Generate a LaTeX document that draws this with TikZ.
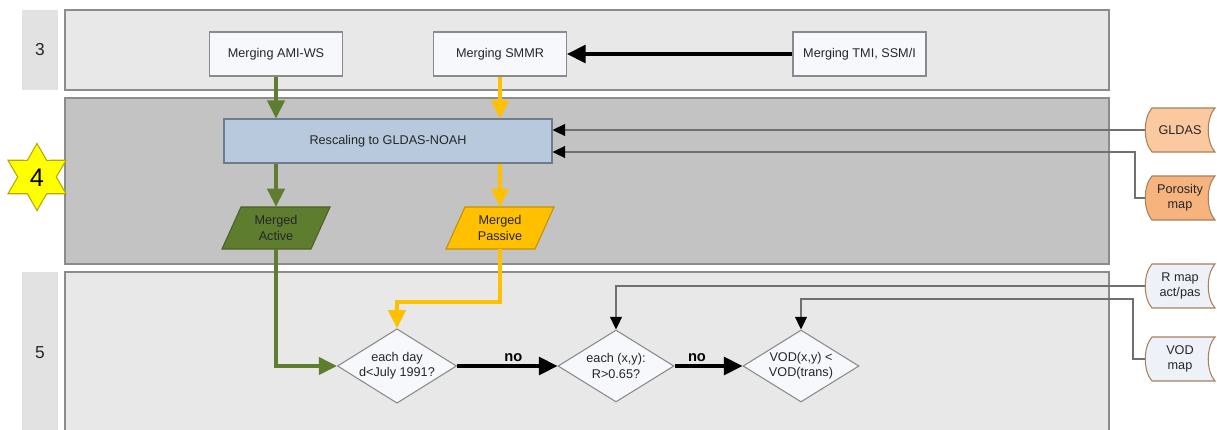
\documentclass[tikz,border=0pt]{standalone}
\usepackage{fontspec}
\setmainfont{Liberation Sans}
\usetikzlibrary{arrows.meta,shapes.geometric}
\definecolor{lanelight}{HTML}{E8E8E8}
\definecolor{lanedark}{HTML}{C3C3C3}
\definecolor{lanelbl}{HTML}{E2E2E2}
\definecolor{laneborder}{HTML}{8C8C8C}
\definecolor{boxfill}{HTML}{F6F8FB}
\definecolor{boxborder}{HTML}{8A8A8A}
\definecolor{rescfill}{HTML}{B8C9DE}
\definecolor{rescborder}{HTML}{6D7D8E}
\definecolor{actgreen}{HTML}{5F7D2F}
\definecolor{actborder}{HTML}{4A6024}
\definecolor{pasyellow}{HTML}{FFC000}
\definecolor{pasborder}{HTML}{C89000}
\definecolor{gldasfill}{HTML}{FAC9A0}
\definecolor{porofill}{HTML}{F6B37D}
\definecolor{storeborder}{HTML}{A8805E}
\definecolor{mapfill}{HTML}{EEF2F8}
\definecolor{thinline}{HTML}{707070}
\definecolor{txt}{HTML}{262626}
\definecolor{staryellow}{HTML}{FFFF00}
\definecolor{starborder}{HTML}{B8A800}
\newcommand\storeshape[4]{%
  \filldraw[fill=#4,draw=storeborder,line width=0.8pt]
    (#1+7,#2) -- (1215,#2) .. controls (1206,#2+10) and (1206,#3-10) .. (1215,#3)
    -- (#1+7,#3) .. controls (#1-2,#3-10) and (#1-2,#2+10) .. (#1+7,#2) -- cycle;}
\begin{document}
\begin{tikzpicture}[x=0.75pt,y=-0.75pt,
  font=\fontsize{9.5}{11.5}\selectfont, text=txt,
  procbox/.style={draw=boxborder,fill=boxfill,line width=0.8pt,minimum width=99.75pt,minimum height=33pt,inner sep=0pt},
  rescbox/.style={draw=rescborder,fill=rescfill,line width=0.8pt,minimum width=246pt,minimum height=33pt,inner sep=0pt},
  iobox/.style={minimum width=66pt,minimum height=31.5pt,inner sep=0pt,align=center},
  decision/.style={diamond,draw=boxborder,fill=boxfill,line width=0.8pt,minimum width=87pt,minimum height=54pt,inner sep=0pt,aspect=1.6,align=center},
  storetxt/.style={minimum width=52.5pt,minimum height=33pt,inner sep=0pt,align=center},
  greenarrow/.style={draw=actgreen,line width=2.3pt,-{Triangle[length=13.5pt,width=13pt]}},
  yellowarrow/.style={draw=pasyellow,line width=2.3pt,-{Triangle[length=13.5pt,width=13pt]}},
  blackarrow/.style={draw=black,line width=2.4pt,-{Triangle[length=14pt,width=13.5pt]}},
  thinarrow/.style={draw=thinline,line width=0.9pt,-{Triangle[length=9.5pt,width=9pt,fill=black,color=black]}},
  nolabel/.style={above=-1pt,font=\fontsize{11}{13}\selectfont\bfseries,text=black},
  lanelabel/.style={font=\fontsize{13}{15}\selectfont}
]
\useasboundingbox (0,0) rectangle (1217,429);
\clip (0,0) rectangle (1217,429);

% lanes
\fill[lanelbl] (22,10) rectangle (58,90);
\fill[lanelbl] (22,272) rectangle (58,440);
\filldraw[fill=lanelight,draw=laneborder,line width=0.9pt] (65,10) rectangle (1109,90);
\filldraw[fill=lanedark,draw=laneborder,line width=0.9pt] (65,98) rectangle (1109,264);
\filldraw[fill=lanelight,draw=laneborder,line width=0.9pt] (65,272) rectangle (1109,440);
\node[lanelabel] (l3) at (40,50) {3};
\node[lanelabel] (l5) at (40,353) {5};

% star 4
\filldraw[fill=staryellow,draw=starborder,line width=0.8pt,shift={(37,177)}]
  (90:33.5) -- (120:19.3) -- (150:33.5) -- (180:19.3) -- (210:33.5) -- (240:19.3)
  -- (270:33.5) -- (300:19.3) -- (330:33.5) -- (0:19.3) -- (30:33.5) -- (60:19.3) -- cycle;
\node[font=\fontsize{19}{21}\selectfont,text=black] (l4) at (37,178) {4};

% lane 3
\node[procbox] (ami) at (276,54) {Merging AMI-WS};
\node[procbox] (smmr) at (500,54) {Merging SMMR};
\node[procbox] (tmi) at (859.5,54) {Merging TMI, SSM/I};

% lane 4
\node[rescbox] (resc) at (388,141) {Rescaling to GLDAS-NOAH};
\filldraw[fill=actgreen,draw=actborder,line width=0.8pt] (241,207) -- (330,207) -- (311,249) -- (222,249) -- cycle;
\node[iobox] (act) at (276,228) {Merged\\Active};
\filldraw[fill=pasyellow,draw=pasborder,line width=0.8pt] (465,207) -- (554,207) -- (535,249) -- (446,249) -- cycle;
\node[iobox] (pas) at (500,228) {Merged\\Passive};

% lane 5
\node[decision] (d1) at (397,366) {each day\\d<July 1991?};
\node[decision] (d2) at (616,366) {each (x,y):\\R>0.65?};
\node[decision] (d3) at (801,366) {VOD(x,y) <\\VOD(trans)};

% data stores
\storeshape{1145}{108}{152}{gldasfill}
\node[storetxt] (gldas) at (1180,130) {GLDAS};
\storeshape{1145}{176}{220}{porofill}
\node[storetxt] (poro) at (1180,198) {Porosity\\map};
\storeshape{1145}{264}{308}{mapfill}
\node[storetxt] (rmap) at (1180,286) {R map\\act/pas};
\storeshape{1145}{337}{381}{mapfill}
\node[storetxt] (vod) at (1180,359) {VOD\\map};

% connectors
\draw[blackarrow] (tmi.west) -- (smmr.east);
\draw[greenarrow] (ami.south) -- (ami.south |- resc.north);
\draw[yellowarrow] (smmr.south) -- (smmr.south |- resc.north);
\draw[greenarrow] (act.north |- resc.south) -- (act.north);
\draw[yellowarrow] (pas.north |- resc.south) -- (pas.north);
\draw[greenarrow] (act.south) |- (d1.west);
\coordinate (pasbend) at (500,302);
\draw[yellowarrow] (pas.south) -- (pasbend) -| (d1.north);
\draw[blackarrow] (d1.east) -- node[nolabel,pos=0.56] (no1) {no} (d2.west);
\draw[blackarrow] (d2.east) -- node[nolabel,pos=0.33] (no2) {no} (d3.west);

\draw[thinarrow] (gldas.west) -- (gldas.west -| resc.east);
\coordinate (porobend) at (1135,152);
\draw[thinarrow] (poro.west) -| (porobend) -- (porobend -| resc.east);
\draw[thinarrow] (rmap.west) -| (d2.north);
\coordinate (vodbend) at (1133,299);
\draw[thinarrow] (vod.west) -| (vodbend) -| (d3.north);
\end{tikzpicture}
\end{document}
